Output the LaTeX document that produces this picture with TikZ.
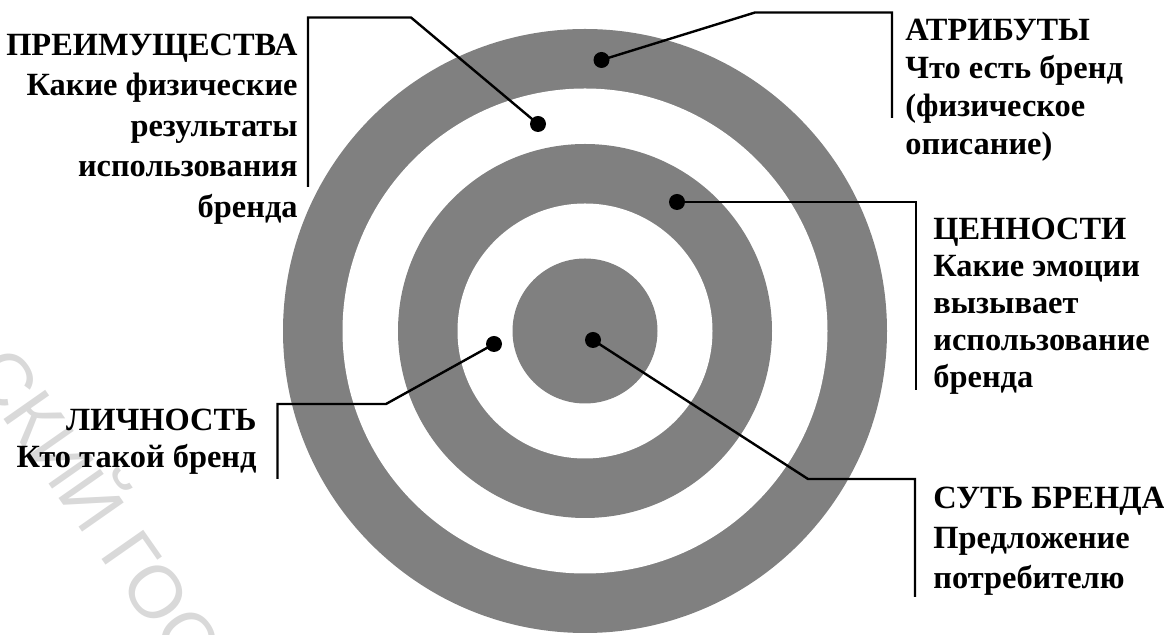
\documentclass[tikz,border=0pt]{standalone}
\usepackage{fontspec}
\setmainfont{Liberation Serif}
\newfontfamily\wmfont{Liberation Sans}

\begin{document}
\begin{tikzpicture}[x=0.5pt,y=-0.5pt,
    lbl/.style={inner sep=0pt,font=\bfseries\fontsize{16.2}{#1}\selectfont},
    lbl/.default=19,
    dot/.style={circle,fill=black,inner sep=0pt,minimum size=8pt},
    leader/.style={line width=1.2pt}]
  \useasboundingbox (0,0) rectangle (1164,635);
  % watermark
  \begin{scope}
    \clip (0,0) rectangle (1164,635);
    \node[text=gray!30,font=\wmfont\fontsize{37}{37}\selectfont,rotate=-55] (wm) at (116,522) {СКИЙ ГОСУ};
  \end{scope}
  % target
  \foreach \r/\c in {302/gray,242.5/white,187/gray,127.5/white,72.5/gray}
    \fill[\c] (585,331) circle[radius={\r*0.5pt}];
  % bends of the leaders
  \coordinate (attrA) at (755,12.5);
  \coordinate (attrB) at (892,12.5);
  \coordinate (attrC) at (892,118);
  \coordinate (benA) at (411,17.5);
  \coordinate (benB) at (308,17.5);
  \coordinate (benC) at (308,187);
  \coordinate (valA) at (916,202);
  \coordinate (valB) at (916,390);
  \coordinate (perA) at (386,404);
  \coordinate (perB) at (277.5,404);
  \coordinate (perC) at (277.5,479);
  \coordinate (essA) at (808,479);
  \coordinate (essB) at (915,479);
  \coordinate (essC) at (915,597);
  % dots
  \node[dot] (attrdot) at (601.5,60) {};
  \node[dot] (bendot) at (538,124) {};
  \node[dot] (valdot) at (677,202) {};
  \node[dot] (perdot) at (494,344) {};
  \node[dot] (essdot) at (593,340) {};
  \draw[leader] (attrdot.center) -- (attrA) -- (attrB) -- (attrC);
  \draw[leader] (bendot.center) -- (benA) -- (benB) -- (benC);
  \draw[leader] (valdot.center) -- (valA) -- (valB);
  \draw[leader] (perdot.center) -- (perA) -- (perB) -- (perC);
  \draw[leader] (essdot.center) -- (essA) -- (essB) -- (essC);
  % texts
  \node[lbl=20.25,anchor=north east,align=right] (benefit) at (298,33.5)
    {ПРЕИМУЩЕСТВА\\Какие физические\\результаты\\использования\\бренда};
  \node[lbl,anchor=north west,align=left] (attr) at (905,18.5)
    {АТРИБУТЫ\\Что есть бренд\\(физическое\\описание)};
  \node[lbl=18.5,anchor=north west,align=left] (values) at (933,217.5)
    {ЦЕННОСТИ\\Какие эмоции\\вызывает\\использование\\бренда};
  \node[lbl=18.5,anchor=north east,align=right] (person) at (257,408.5)
    {ЛИЧНОСТЬ\\Кто такой бренд};
  \node[lbl=20,anchor=north west,align=left] (essence) at (933,486.5)
    {СУТЬ БРЕНДА\\Предложение\\потребителю};
\end{tikzpicture}
\end{document}
